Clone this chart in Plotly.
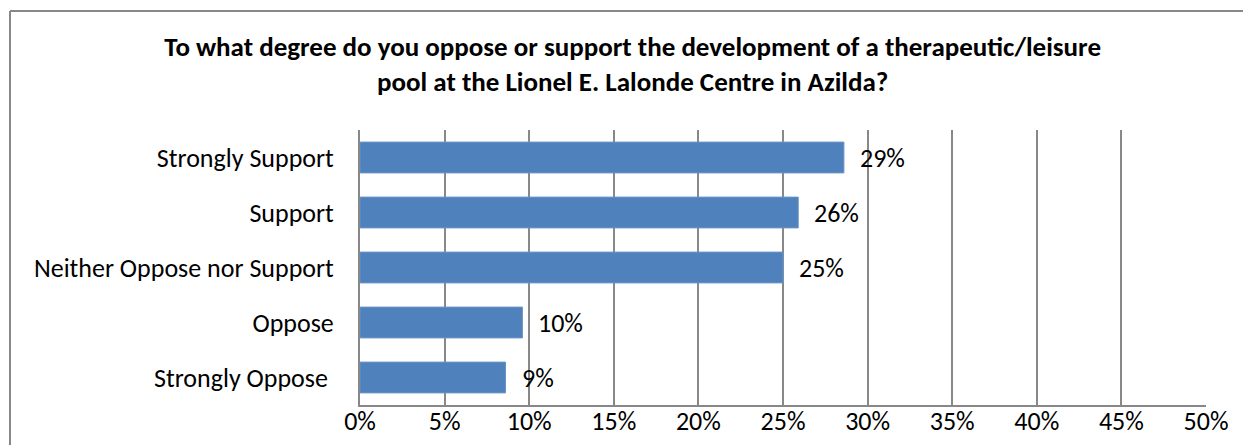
import plotly.graph_objects as go

categories = ["Strongly Support", "Support", "Neither Oppose nor Support", "Oppose", "Strongly Oppose\u00a0"]
values = [28.6, 25.9, 25.0, 9.6, 8.6]
tick_vals = [0, 5, 10, 15, 20, 25, 30, 35, 40, 45, 50]
tick_text = [f"{v}%" for v in tick_vals]
title_text = ("To what degree do you oppose or support the development of a therapeutic/leisure"
              "<br>pool at the Lionel E. Lalonde Centre in Azilda?")

FONT = "Carlito, Calibri, Lato, sans-serif"
FS = 26
W, H = 1243, 445
ML, MR, MT, MB = 360, 37, 130, 40

fig = go.Figure()
fig.add_trace(go.Bar(
    x=values, y=categories, orientation="h",
    marker=dict(color="#4F81BD", line=dict(color="#6A94C8", width=1)),
    width=0.56, hoverinfo="skip",
))

for c, v in zip(categories, values):
    fig.add_annotation(x=v, y=c, text=f"{round(v)}%", showarrow=False,
                       xanchor="left", xshift=14, yshift=0,
                       font=dict(family=FONT, size=FS, color="#000000"))

pw = W - ML - MR
ph = H - MT - MB
gray = "#888888"
# chart-area border (left and top edges visible)
fig.add_shape(type="line", xref="paper", yref="paper",
              x0=(10 - ML) / pw, x1=(W + 5 - ML) / pw,
              y0=(H - MB - 11) / ph, y1=(H - MB - 11) / ph,
              line=dict(color=gray, width=2))
fig.add_shape(type="line", xref="paper", yref="paper",
              x0=(10 - ML) / pw, x1=(10 - ML) / pw,
              y0=(H - MB - 11) / ph, y1=(H - MB - H - 5) / ph,
              line=dict(color=gray, width=2))

fig.update_layout(
    width=W, height=H,
    margin=dict(l=ML, r=MR, t=MT, b=MB, autoexpand=False),
    paper_bgcolor="white", plot_bgcolor="white",
    showlegend=False,
    font=dict(family=FONT, size=FS, color="#000000"),
    title=dict(text=f"<b>{title_text}</b>", x=0.509, xanchor="center",
               y=1 - 56 / H, yanchor="middle",
               font=dict(family=FONT, size=27, color="#000000")),
    xaxis=dict(range=[0, 50], tickvals=tick_vals, ticktext=tick_text,
               showgrid=True, gridcolor=gray, gridwidth=1.5,
               showline=True, linecolor=gray, linewidth=2,
               zeroline=False, ticks="", ticklabelstandoff=-8,
               automargin=False, fixedrange=True),
    yaxis=dict(autorange="reversed", showgrid=False,
               showline=True, linecolor=gray, linewidth=2,
               ticks="", ticklabelstandoff=19, automargin=False,
               fixedrange=True),
)

fig.write_html("out.html")
